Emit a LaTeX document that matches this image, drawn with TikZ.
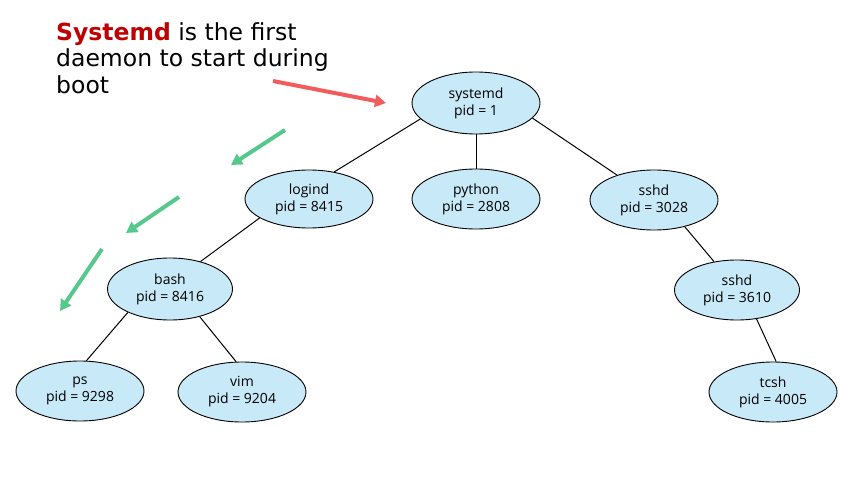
\documentclass[tikz,border=0pt]{standalone}
\usepackage{fontspec}
\setmainfont{Open Sans}
\newfontfamily\notefont{DejaVu Sans}
\usetikzlibrary{arrows.meta,shapes.geometric}
\definecolor{procfill}{HTML}{C8E9F8}
\definecolor{notered}{HTML}{C00000}
\definecolor{bootred}{HTML}{F25C5C}
\definecolor{stepgreen}{HTML}{55C98C}
\begin{document}
\begin{tikzpicture}[x=1pt,y=-1pt,
    proc/.style={ellipse,draw=black,line width=0.9pt,fill=procfill,minimum width=128pt,minimum height=60pt,inner sep=0pt,align=center,font=\fontsize{14}{17}\selectfont},
    link/.style={line width=1pt},
    hint/.style={line width=4pt,-{Triangle[length=11pt,width=12pt]}}]
    \useasboundingbox (0,0) rectangle (865,479);
    \node[anchor=north west,align=left,inner sep=0pt,font=\notefont\fontsize{23.5}{26.8}\selectfont] (note) at (56,22)
        {\textcolor{notered}{\textbf{Systemd}} is the first\\daemon to start during\\boot};
    \node[proc,minimum height=62pt] (v0) at (476,103) {systemd\\pid = 1};
    \node[proc,minimum height=58pt] (v1) at (309,199) {logind\\pid = 8415};
    \node[proc] (v2) at (476,199) {python\\pid = 2808};
    \node[proc] (v3) at (654,200) {sshd\\pid = 3028};
    \node[proc,minimum width=125pt,minimum height=62pt] (v4) at (170,289) {bash\\pid = 8416};
    \node[proc,minimum width=125pt] (v5) at (737,290) {sshd\\pid = 3610};
    \node[proc] (v6) at (80,391) {ps\\pid = 9298};
    \node[proc] (v7) at (242,392) {vim\\pid = 9204};
    \node[proc] (v8) at (773,392) {tcsh\\pid = 4005};
    \draw[link] (v0.-164) -- (v1.47);
    \draw[link] (v0) -- (v2);
    \draw[link] (v0.-15) -- (v3.146);
    \draw[link] (v1.-159) -- (v4.42);
    \draw[link] (v4.-151) -- (v6.78);
    \draw[link] (v4.-43) -- (v7.101);
    \draw[link] (v3.-41) -- (v5.129);
    \draw[link] (v5.-56) -- (v8.84);
    % arrows showing boot order
    \coordinate (r0) at (273,81);
    \coordinate (r1) at (386,103);
    \draw[hint,bootred] (r0) -- (r1);
    \coordinate (g0) at (285,130);
    \coordinate (g1) at (231,165);
    \coordinate (g2) at (179,197);
    \coordinate (g3) at (126,233);
    \coordinate (g4) at (102,249);
    \coordinate (g5) at (60,311);
    \draw[hint,stepgreen] (g0) -- (g1);
    \draw[hint,stepgreen] (g2) -- (g3);
    \draw[hint,stepgreen] (g4) -- (g5);
\end{tikzpicture}
\end{document}
